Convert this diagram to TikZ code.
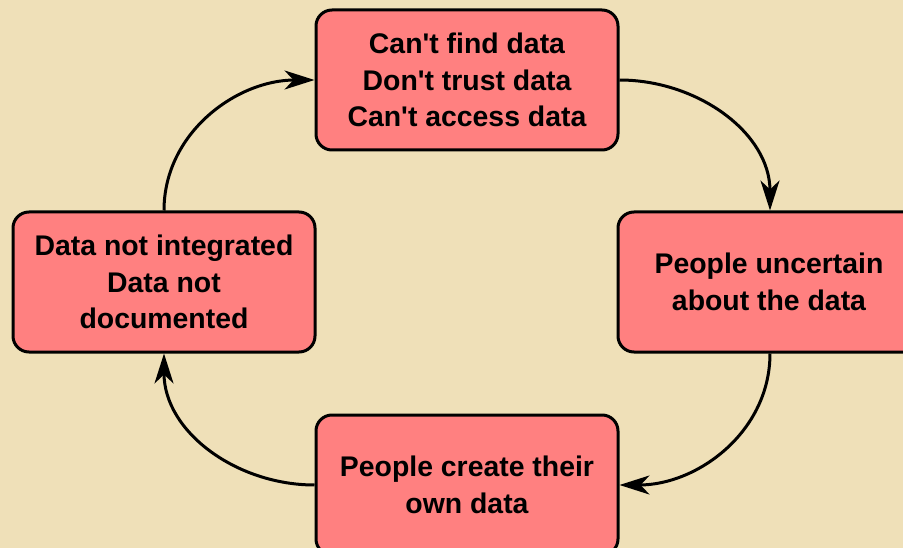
\documentclass[tikz,border=0pt]{standalone}
\usepackage{fontspec}
\setmainfont{Liberation Sans}
\usetikzlibrary{arrows.meta}
\definecolor{parch}{RGB}{239,224,184}
\definecolor{boxred}{RGB}{255,128,128}
\tikzset{
  cyclebox/.style={draw=black, line width=3pt, fill=boxred, rounded corners=16pt,
    minimum width=302pt, minimum height=140pt, align=center, inner sep=0pt,
    font=\fontsize{28.4}{36.5}\selectfont\bfseries},
  cyclearrow/.style={draw=black, line width=3pt,
    -{Stealth[length=30pt,width=19pt,inset=9pt]}}
}
\begin{document}
\begin{tikzpicture}[x=1pt,y=-1pt]
\fill[parch] (0,0) rectangle (903,548);
\useasboundingbox (0,0) rectangle (903,548);
\node[cyclebox] (top) at (467,80) {Can\textquotesingle t find data\\Don\textquotesingle t trust data\\Can\textquotesingle t access data};
\node[cyclebox] (right) at (769,282) {People uncertain\\about the data};
\node[cyclebox] (bottom) at (467,485) {People create their\\own data};
\node[cyclebox] (left) at (164,282) {Data not integrated\\Data not\\documented};
\draw[cyclearrow] (top.east) to[out=0,in=90] (right.north -| 770,0);
\draw[cyclearrow] (right.south -| 770,0) to[out=-90,in=0] (bottom.east);
\draw[cyclearrow] (bottom.west) to[out=180,in=-90] (left.south);
\draw[cyclearrow] (left.north) to[out=90,in=180] (top.west);
\end{tikzpicture}
\end{document}
